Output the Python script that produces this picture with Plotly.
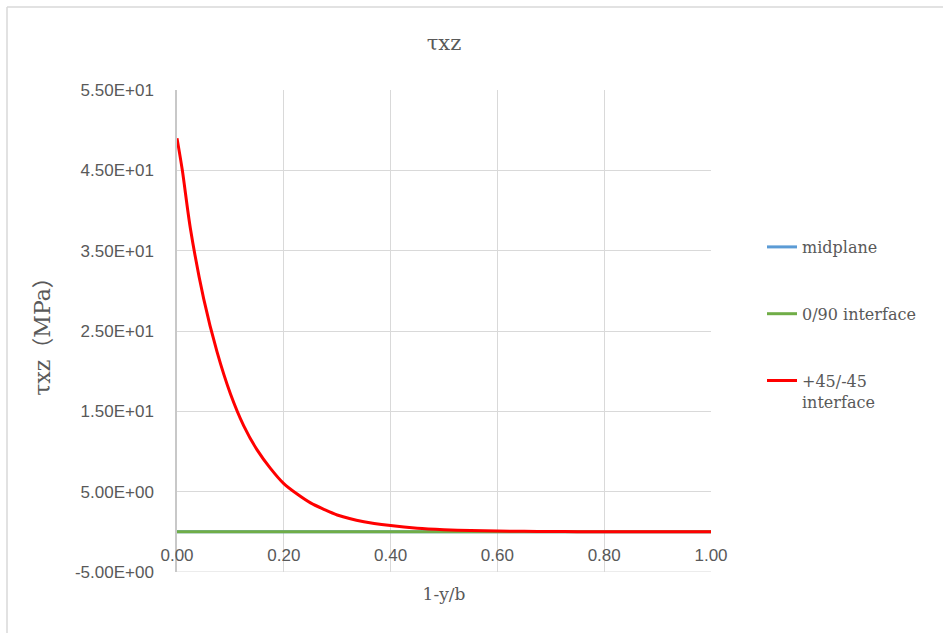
import plotly.graph_objects as go

# Position along the width, 1 - y/b
x_pos = [0.0, 0.01, 0.025, 0.05, 0.075, 0.1, 0.125, 0.15, 0.175, 0.2,
         0.225, 0.25, 0.275, 0.3, 0.35, 0.4, 0.45, 0.5, 0.55, 0.6,
         0.65, 0.7, 0.75, 0.8, 0.85, 0.9, 0.95, 1.0]

# Interlaminar shear stress tau_xz (MPa) at each interface
tau_midplane = [0.0] * len(x_pos)
tau_0_90 = [0.0] * len(x_pos)
tau_45 = [49.0, 45.0, 37.8, 29.0, 22.4, 17.2, 13.2, 10.2, 7.9, 6.0,
          4.7, 3.6, 2.8, 2.1, 1.25, 0.78, 0.45, 0.27, 0.16, 0.10,
          0.06, 0.04, 0.02, 0.01, 0.01, 0.0, 0.0, 0.0]

series_names = ["midplane", "0/90 interface", "+45/-45<br>interface"]
series_colors = ["#5B9BD5", "#70AD47", "#FF0000"]

y_tickvals = [-5, 5, 15, 25, 35, 45, 55]
y_ticktext = ["-5.00E+00", "5.00E+00", "1.50E+01", "2.50E+01",
              "3.50E+01", "4.50E+01", "5.50E+01"]
x_tickvals = [0.0, 0.2, 0.4, 0.6, 0.8, 1.0]

TXT = "#595959"
GRID = "#D9D9D9"
SERIF = "DejaVu Serif"
SANS = "Liberation Sans"

fig = go.Figure()
for i, (vals, name, color) in enumerate(
        zip([tau_midplane, tau_0_90, tau_45], series_names, series_colors)):
    fig.add_trace(go.Scatter(
        x=x_pos, y=vals, name=name, mode="lines",
        line=dict(color=color, width=3, shape="spline", smoothing=0.8),
        legendgroup=f"g{i}",
    ))

W, H = 943, 633
L, R, T, B = 177, 232, 90, 61
pw, ph = W - L - R, H - T - B


def px_x(px):
    return (px - L) / pw


def px_y(py):
    return (H - B - py) / ph


fig.update_layout(
    width=W, height=H,
    margin=dict(l=L, r=R, t=T, b=B),
    paper_bgcolor="white", plot_bgcolor="white",
    title=dict(text="τxz", x=0.5, xref="paper", y=1 - 43 / H, yanchor="middle",
               xanchor="center",
               font=dict(family=SERIF, size=21, color=TXT)),
    showlegend=True,
    legend=dict(
        x=px_x(762), y=px_y(230), xanchor="left", yanchor="top",
        font=dict(family=SERIF, size=16, color=TXT),
        tracegroupgap=43, traceorder="grouped", valign="top",
        bgcolor="rgba(0,0,0,0)",
    ),
    xaxis=dict(
        range=[0, 1], tickvals=x_tickvals, tickformat=".2f",
        anchor="free", position=5 / 60,
        showgrid=True, gridcolor=GRID, gridwidth=1,
        zeroline=False, showline=False,
        ticks="", ticklabelstandoff=11,
        tickfont=dict(family=SANS, size=17, color=TXT),
        title=dict(text="1-y/b", font=dict(family=SERIF, size=17, color=TXT),
                   standoff=24),
    ),
    yaxis=dict(
        range=[-5, 55], tickvals=y_tickvals, ticktext=y_ticktext,
        showgrid=True, gridcolor=GRID, gridwidth=1,
        zeroline=False, showline=True, linecolor="#C8C8C8", linewidth=1.5,
        ticks="", ticklabelstandoff=18,
        tickfont=dict(family=SANS, size=17, color=TXT),
        title=dict(text="τxz（MPa）", font=dict(family=SERIF + ", Noto Sans CJK JP",
                                                size=22, color=TXT),
                   standoff=18),
    ),
    shapes=[
        # bottom edge of the plot area at the lowest value-axis gridline
        dict(type="line", xref="paper", yref="y",
             x0=0, x1=1, y0=-5, y1=-5,
             line=dict(color=GRID, width=1)),
        dict(type="line", xref="paper", yref="paper",
             x0=px_x(7), x1=px_x(W), y0=px_y(7), y1=px_y(7),
             line=dict(color=GRID, width=1.5)),
        dict(type="line", xref="paper", yref="paper",
             x0=px_x(7), x1=px_x(7), y0=px_y(7), y1=px_y(H),
             line=dict(color=GRID, width=1.5)),
    ],
)

fig.write_html("out.html")
